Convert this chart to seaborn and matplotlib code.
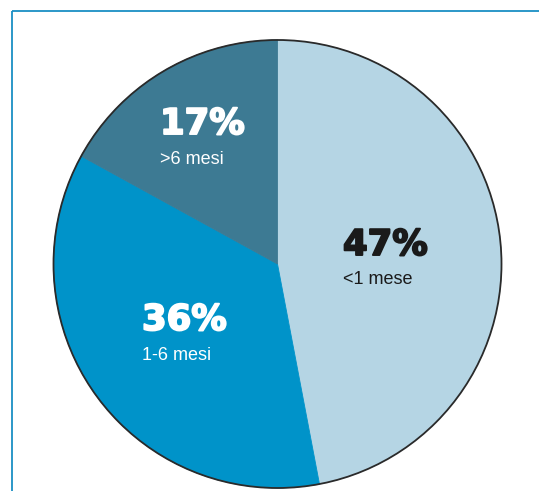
import matplotlib
matplotlib.use("Agg")
import matplotlib.pyplot as plt
import matplotlib.patheffects as pe
import seaborn as sns
from matplotlib.patches import Circle

# dati: durata
labels = ["<1 mese", "1-6 mesi", ">6 mesi"]
values = [47, 36, 17]
colors = ["#b5d5e4", "#0093c9", "#3d7a93"]
text_colors = ["#1a1a1a", "white", "white"]

sns.set_style("white")
plt.rcParams["font.family"] = ["DejaVu Sans"]

W, H = 539, 491
fig = plt.figure(figsize=(W / 100, H / 100), dpi=100)
ax = fig.add_axes([0, 0, 1, 1])

cx, cy, r = 277.5, H - 264, 224
wedges, _ = ax.pie(
    values,
    colors=colors,
    startangle=90,
    counterclock=False,
    center=(cx, cy),
    radius=r,
    wedgeprops=dict(linewidth=0.6),
)
for w in wedges:
    w.set_edgecolor(w.get_facecolor())
ax.add_patch(Circle((cx, cy), r, fill=False, edgecolor="#2a2a2a", lw=1.3, zorder=5))

# posizioni delle etichette (pixel, angolo in alto a sinistra del testo)
label_pos = [(343, 245), (142, 320), (160, 124)]
for lab, v, tc, (x, y) in zip(labels, values, text_colors, label_pos):
    t = ax.text(x, H - y, f"{v}%", color=tc, fontsize=25.5, fontweight="bold",
                ha="left", va="center")
    t.set_path_effects([pe.withStroke(linewidth=1.4, foreground=tc)])
    ax.text(x, H - y - 35, lab, color=tc, fontsize=13,
            family=["Liberation Sans", "DejaVu Sans"], ha="left", va="center")

# cornice
ax.plot([12, W], [H - 11, H - 11], color="#1a8fc4", lw=1.3, solid_capstyle="butt")
ax.plot([12, 12], [H - 11, 0], color="#1a8fc4", lw=1.3, solid_capstyle="butt")

ax.set_xlim(0, W)
ax.set_ylim(0, H)
ax.set_aspect("auto")
ax.axis("off")

fig.savefig("out.png", dpi=100)
